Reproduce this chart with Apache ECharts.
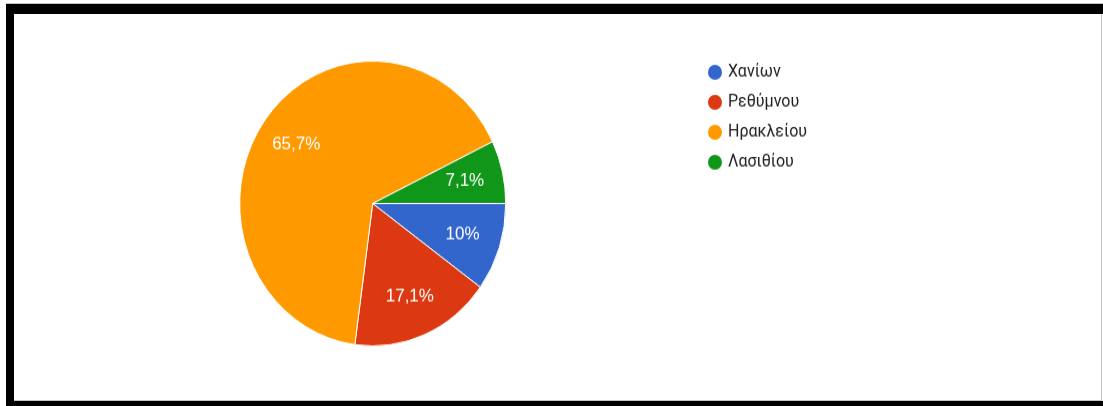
<!DOCTYPE html>
<html>
<head>
<meta charset="utf-8">
<script src="https://cdn.jsdelivr.net/npm/echarts@6/dist/echarts.min.js"></script>
<style>
  html, body { margin: 0; padding: 0; background: #fff; overflow: hidden; }
  #chart {
    position: absolute; left: 0; top: 0; width: 1103px; height: 406px;
    transform: scaleY(1.071); transform-origin: 0 203.5px;
  }
  .frame { position: absolute; background: #000; z-index: 5; }
  .line { position: absolute; background: #c4c4c4; z-index: 5; }
</style>
</head>
<body>
<div id="chart"></div>
<div class="line" style="left:6px;top:3px;width:1097px;height:1px;"></div>
<div class="frame" style="left:6px;top:4px;width:1097px;height:10px;"></div>
<div class="frame" style="left:6px;top:4px;width:8px;height:402px;"></div>
<div class="frame" style="left:6px;top:401px;width:1097px;height:5px;"></div>
<div class="line" style="left:1101px;top:14px;width:1px;height:387px;"></div>
<div class="line" style="left:14px;top:400px;width:1087px;height:1px;"></div>
<script>
// Regional units of Crete and number of responses for each
const regions = ['Χανίων', 'Ρεθύμνου', 'Ηρακλείου', 'Λασιθίου'];
const counts = [7, 12, 46, 5];
const colors = ['#3366cc', '#dc3912', '#ff9900', '#109618'];

const total = counts.reduce((a, b) => a + b, 0);
const pieData = regions.map((name, i) => ({ name, value: counts[i] }));

// Share of the total, one decimal, comma as decimal separator, no trailing ",0"
function pct(value) {
  const s = (value / total * 100).toFixed(1).replace(/\.0$/, '');
  return s.replace('.', ',') + '%';
}

const chart = echarts.init(document.getElementById('chart'), null, { renderer: 'canvas' });
chart.setOption({
  animation: false,
  color: colors,
  legend: {
    orient: 'vertical',
    left: 701,
    top: 67,
    icon: 'circle',
    itemWidth: 16,
    itemHeight: 16,
    itemGap: 10,
    data: regions,
    textStyle: { fontFamily: 'Roboto, Arial, sans-serif', fontSize: 16, color: '#222' }
  },
  series: [
    {
      type: 'pie',
      center: [372.7, 203.5],
      radius: 133,
      startAngle: 0,
      clockwise: true,
      label: { show: false },
      labelLine: { show: false },
      itemStyle: { borderColor: '#fff', borderWidth: 1 },
      emphasis: { disabled: true },
      data: pieData
    },
    {
      // label ring: puts the percentage labels at ~0.69 of the radius
      type: 'pie',
      center: [372.7, 203.5],
      radius: [50, 133],
      startAngle: 0,
      clockwise: true,
      silent: true,
      itemStyle: { color: 'rgba(0,0,0,0)' },
      label: {
        show: true,
        position: 'inside',
        formatter: p => pct(p.value),
        color: '#fff',
        fontFamily: 'Arial, "Liberation Sans", sans-serif',
        fontSize: 17
      },
      labelLine: { show: false },
      emphasis: { disabled: true },
      data: pieData
    }
  ]
});
</script>
</body>
</html>
